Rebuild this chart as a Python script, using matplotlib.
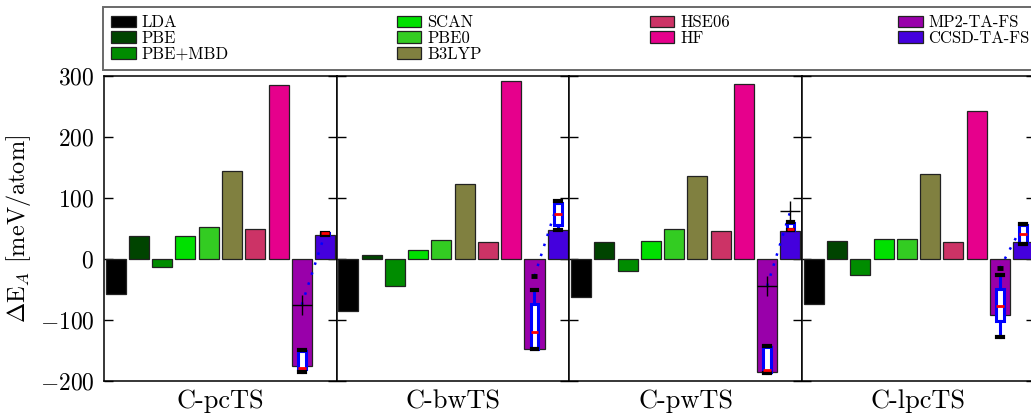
import numpy as np
import matplotlib
matplotlib.use("Agg")
import matplotlib.pyplot as plt
from matplotlib.patches import Patch

plt.rcParams["font.family"] = "serif"
plt.rcParams["font.serif"] = ["cmr10"]
plt.rcParams["mathtext.fontset"] = "cm"
plt.rcParams["axes.formatter.use_mathtext"] = True

# ---- data -------------------------------------------------------------
methods = ["LDA", "PBE", "PBE+MBD", "SCAN", "PBE0", "B3LYP",
           "HSE06", "HF", "MP2-TA-FS", "CCSD-TA-FS"]
colors = ["#000000", "#004400", "#008c00", "#00e000", "#33cc22", "#808040",
          "#cc3366", "#e6008c", "#9900aa", "#4400dd"]
structures = ["C-pcTS", "C-bwTS", "C-pwTS", "C-lpcTS"]

# Vacancy formation energies (meV/atom), one list per structure
dE_pcTS = [-57, 38, -13, 37, 52, 145, 50, 285, -175, 40]
dE_bwTS = [-86, 6, -44, 14, 31, 123, 28, 292, -147, 48]
dE_pwTS = [-62, 28, -19, 29, 50, 136, 46, 287, -185, 46]
dE_lpcTS = [-74, 29, -27, 32, 32, 139, 28, 243, -92, 28]
energies = [dE_pcTS, dE_bwTS, dE_pwTS, dE_lpcTS]

# Spread of the twist-averaged finite-size corrected results
# (whisker low, q1, median, q3, whisker high)
mp2_spread = [[-186, -180, -179, -150, -149],
              [-147, -147, -120, -74, -51],
              [-187, -185, -182, -144, -143],
              [-128, -101, -77, -49, -26]]
ccsd_spread = [[39, 39, 42, 43, 43],
               [48, 56, 74, 92, 95],
               [47, 48, 49, 59, 60],
               [25, 26, 41, 56, 58]]
mp2_outlier = [[], [-28], [], [-15]]

# Extrapolated estimates linking MP2 and CCSD
mp2_estimate = [-75, -28, -44, -15]
ccsd_estimate = [42, 92, 79, 57]
mp2_marked = [True, False, True, False]
ccsd_marked = [False, False, True, False]

# ---- layout -----------------------------------------------------------
W, H = 1031, 418
fig = plt.figure(figsize=(W / 100, H / 100), dpi=100)

ax_left, ax_w = 104, 232.7
ax_bot, ax_top = 381, 76
x = np.arange(len(methods)) + 0.5
i_mp2, i_ccsd = 8, 9

axes = []
for k, name in enumerate(structures):
    ax = fig.add_axes([(ax_left + k * ax_w) / W, (H - ax_bot) / H,
                       ax_w / W, (ax_bot - ax_top) / H])
    axes.append(ax)
    ax.bar(x, energies[k], width=0.86, color=colors,
           edgecolor="#222222", linewidth=0.9, zorder=2)

    # dotted link between the two correlated estimates
    ax.plot([x[i_mp2], x[i_ccsd]], [mp2_estimate[k], ccsd_estimate[k]],
            linestyle=(0, (1, 3.2)), color="#0000ff", linewidth=1.8,
            zorder=3)

    stats = []
    for spread, fl in ((mp2_spread[k], mp2_outlier[k]),
                       (ccsd_spread[k], [])):
        lo, q1, med, q3, hi = spread
        stats.append(dict(whislo=lo, q1=q1, med=med, q3=q3, whishi=hi,
                          fliers=fl))
    ax.bxp(stats, positions=[x[i_mp2], x[i_ccsd]], widths=0.34,
           patch_artist=True, showfliers=True, manage_ticks=False,
           boxprops=dict(facecolor="white", edgecolor="#0000ff",
                         linewidth=2.2),
           medianprops=dict(color="#ff0000", linewidth=2.0),
           whiskerprops=dict(color="#0000ff", linewidth=2.2),
           capprops=dict(color="black", linewidth=3.0),
           capwidths=0.25,
           flierprops=dict(marker="_", markersize=5, markeredgewidth=3.5,
                           markeredgecolor="black"),
           zorder=4)

    if mp2_marked[k]:
        ax.plot(x[i_mp2], mp2_estimate[k], marker="+", markersize=14,
                markeredgewidth=1.0, color="black", zorder=5)
    if ccsd_marked[k]:
        ax.plot(x[i_ccsd], ccsd_estimate[k], marker="+", markersize=14,
                markeredgewidth=1.0, color="black", zorder=5)

    ax.set_xlim(0, len(methods))
    ax.set_ylim(-200, 300)
    ax.set_yticks([-200, -100, 0, 100, 200, 300])
    ax.tick_params(axis="y", direction="in", left=True, right=True,
                   length=6.5, width=1.0, labelsize=17, pad=7)
    ax.set_xticks([len(methods) / 2])
    ax.set_xticklabels([name], fontsize=19)
    ax.tick_params(axis="x", length=0, pad=6)
    if k > 0:
        ax.tick_params(axis="y", labelleft=False)
    for sp in ax.spines.values():
        sp.set_linewidth(1.1)

axes[0].set_ylabel(r"$\Delta\mathrm{E}_A$ [meV/atom]", fontsize=17.5,
                   labelpad=5)

handles = [Patch(facecolor=c, edgecolor="#222222", linewidth=0.9)
           for c in colors]
leg = fig.legend(handles, methods,
                 loc="upper left", ncol=4, mode="expand",
                 bbox_to_anchor=(103 / W, 1 - 11 / H, (1038 - 103) / W, 0.01),
                 fontsize=12, handlelength=1.45, handleheight=0.7,
                 handletextpad=0.35, labelspacing=0.02, borderpad=0.5,
                 fancybox=False, frameon=True, borderaxespad=0)
leg.get_frame().set_edgecolor("#444444")
leg.get_frame().set_linewidth(1.4)

fig.savefig("out.png", dpi=100)
